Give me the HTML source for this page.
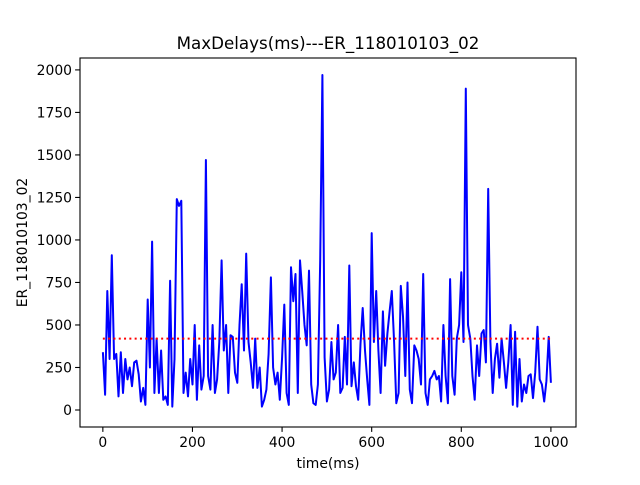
<!DOCTYPE html>
<html><head><meta charset="utf-8"><style>
body{margin:0;background:#fff;font-family:"Liberation Sans","DejaVu Sans",sans-serif}
text{font-family:"DejaVu Sans","Liberation Sans",sans-serif}
</style></head><body>
<svg id="chart" width="640" height="480" xmlns="http://www.w3.org/2000/svg"></svg>
<script>
const times=[];for(let i=0;i<=200;i++)times.push(i*5);
const delays=[340,90,700,300,910,300,330,80,340,100,300,180,250,140,280,290,210,50,130,30,650,250,990,100,420,100,350,60,80,30,760,20,300,1240,1200,1230,100,220,80,300,150,500,60,380,120,200,1470,200,120,500,100,180,400,880,350,500,100,440,430,220,160,500,740,350,920,400,280,130,420,130,250,20,60,120,330,780,250,150,220,60,310,620,100,30,840,640,800,100,880,700,500,380,820,150,40,30,150,880,1970,310,50,120,400,180,220,500,100,130,430,150,850,140,280,140,60,390,600,350,180,30,1040,400,700,350,100,580,260,450,580,700,400,40,100,730,550,200,750,120,40,380,350,300,150,800,100,30,180,200,230,180,200,50,500,200,40,770,200,90,420,500,810,400,1890,500,420,200,60,380,200,450,470,280,1300,400,100,300,390,190,420,280,130,280,500,30,460,20,300,50,150,100,200,210,70,220,490,180,150,50,170,430,160];
const meanValue=420;
const xTicks=[0,200,400,600,800,1000];
const yTicks=[0,250,500,750,1000,1250,1500,1750,2000];
const L=80,R=576,T=58,B=427;
const xMin=-51,xMax=1056,yMin=-100,yMax=2070;
const sx=v=>L+(v-xMin)/(xMax-xMin)*(R-L);
const sy=v=>B-(v-yMin)/(yMax-yMin)*(B-T);
const svg=document.getElementById('chart');const NS='http://www.w3.org/2000/svg';
function mk(t,a,p){const e=document.createElementNS(NS,t);for(const k in a)e.setAttribute(k,a[k]);(p||svg).appendChild(e);return e;}
let d='';times.forEach((t,i)=>{d+=(i?'L':'M')+sx(t).toFixed(1)+','+sy(delays[i]).toFixed(1);});
const line=mk('path',{d:d,fill:'none',stroke:'#0000ff','stroke-width':2,'stroke-linejoin':'round'});


const mean=mk('line',{x1:sx(times[0]),x2:sx(times[times.length-1]),y1:sy(meanValue),y2:sy(meanValue),stroke:'#ff0000','stroke-width':2,'stroke-dasharray':'2,3.3'});


const frame=mk('rect',{x:L,y:T,width:R-L,height:B-T,fill:'none',stroke:'#000','stroke-width':1.1});


xTicks.forEach(v=>{const x=sx(v);mk('line',{x1:x,x2:x,y1:B,y2:B+4.9,stroke:'#000','stroke-width':1.1});
const t=mk('text',{x:x,y:B+20,'text-anchor':'middle','font-size':13.9});t.textContent=v;

});
yTicks.forEach(v=>{const y=sy(v);mk('line',{x1:L,x2:L-4.9,y1:y,y2:y,stroke:'#000','stroke-width':1.1});
const t=mk('text',{x:L-8,y:y+5,'text-anchor':'end','font-size':13.9});t.textContent=v;

});
const title=mk('text',{x:(L+R)/2,y:49,'text-anchor':'middle','font-size':16.7});title.textContent='MaxDelays(ms)---ER_118010103_02';


const xl=mk('text',{x:(L+R)/2,y:468,'text-anchor':'middle','font-size':13.9});xl.textContent='time(ms)';


const yl=mk('text',{x:0,y:0,'text-anchor':'middle','font-size':13.9,transform:'translate(27,'+((T+B)/2)+') rotate(-90)'});yl.textContent='ER_118010103_02';


</script>
</body></html>
